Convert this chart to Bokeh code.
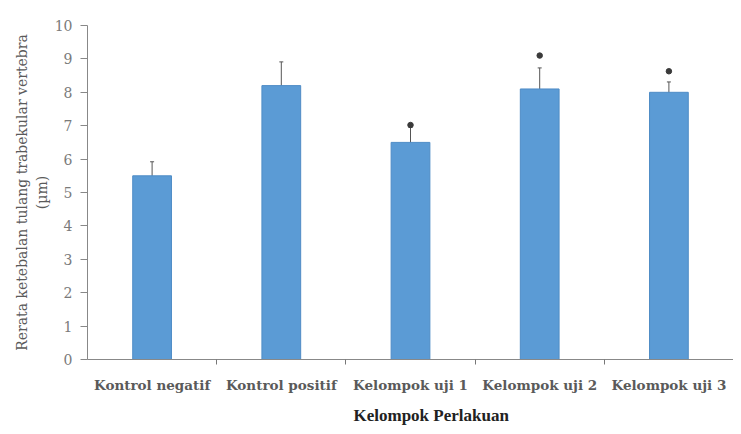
from bokeh.plotting import figure
from bokeh.models import FixedTicker, Range1d, Whisker, ColumnDataSource, TeeHead, Title
from bokeh.embed import file_html
from bokeh.resources import INLINE

categories = ["Kontrol negatif", "Kontrol positif", "Kelompok uji 1", "Kelompok uji 2", "Kelompok uji 3"]
means = [5.5, 8.2, 6.5, 8.1, 8.0]
errors = [0.42, 0.71, 0.45, 0.63, 0.31]
sig_groups = ["Kelompok uji 1", "Kelompok uji 2", "Kelompok uji 3"]
sig_heights = [7.02, 9.1, 8.63]
y_ticks = [0, 1, 2, 3, 4, 5, 6, 7, 8, 9, 10]

xs = [i + 1 for i in range(len(categories))]
src = ColumnDataSource(dict(
    x=xs, top=means,
    upper=[m + e for m, e in zip(means, errors)],
    lower=[m - e for m, e in zip(means, errors)],
))
sig_x = [categories.index(g) + 1 for g in sig_groups]

p = figure(width=733, height=433, output_backend="svg", toolbar_location=None,
           x_range=Range1d(0.5, len(categories) + 0.5), y_range=Range1d(0, 10),
           min_border_left=87, min_border_right=0, min_border_top=25, min_border_bottom=66)
p.outline_line_color = None
p.grid.grid_line_color = None
p.background_fill_color = "white"
p.border_fill_color = "white"

p.vbar(x="x", top="top", width=0.3, source=src, fill_color="#5B9BD5", line_color="#4F8CC6", line_width=1)

w = Whisker(base="x", upper="upper", lower="lower", source=src, line_color="#555555", line_width=1,
            upper_head=TeeHead(size=4, line_color="#555555", line_width=1),
            lower_head=TeeHead(size=4, line_color="#555555", line_width=1))
p.add_layout(w)

p.scatter(sig_x, sig_heights, size=5.5, marker="circle", fill_color="#3a3a3a", line_color="#3a3a3a")

# x axis
xa = p.xaxis[0]
xa.ticker = FixedTicker(ticks=xs, minor_ticks=[x + 0.5 for x in xs[:-1]])
xa.major_label_overrides = {x: c for x, c in zip(xs, categories)}
xa.major_tick_line_color = None
xa.major_tick_out = 0
xa.major_tick_in = 0
xa.minor_tick_line_color = "#777777"
xa.minor_tick_out = 5
xa.minor_tick_in = 0
xa.axis_line_color = "#888888"
xa.major_label_standoff = 12
xa.major_label_text_font = "DejaVu Serif"
xa.major_label_text_font_size = "13.5px"
xa.major_label_text_font_style = "bold"
xa.major_label_text_color = "#5a5a5a"

p.add_layout(Title(text="Kelompok Perlakuan", align="left", offset=266,
                   text_font="Liberation Serif", text_font_size="17px",
                   text_font_style="bold", text_color="#222222", standoff=17), "below")

# y axis
ya = p.yaxis[0]
ya.ticker = FixedTicker(ticks=y_ticks, minor_ticks=[])
ya.axis_line_color = "#888888"
ya.major_tick_line_color = "#888888"
ya.major_tick_out = 7
ya.major_tick_in = 0
ya.minor_tick_line_color = None
ya.major_label_standoff = 8
ya.major_label_text_font = "DejaVu Serif"
ya.major_label_text_font_size = "14px"
ya.major_label_text_color = "#7a7a7a"
ya.axis_label = "Rerata ketebalan tulang trabekular vertebra\n(µm)"
ya.axis_label_text_font = "DejaVu Serif"
ya.axis_label_text_font_size = "14px"
ya.axis_label_text_font_style = "normal"
ya.axis_label_text_color = "#5a5a5a"
ya.axis_label_standoff = 2

open("out.html", "w").write(file_html(p, INLINE))
